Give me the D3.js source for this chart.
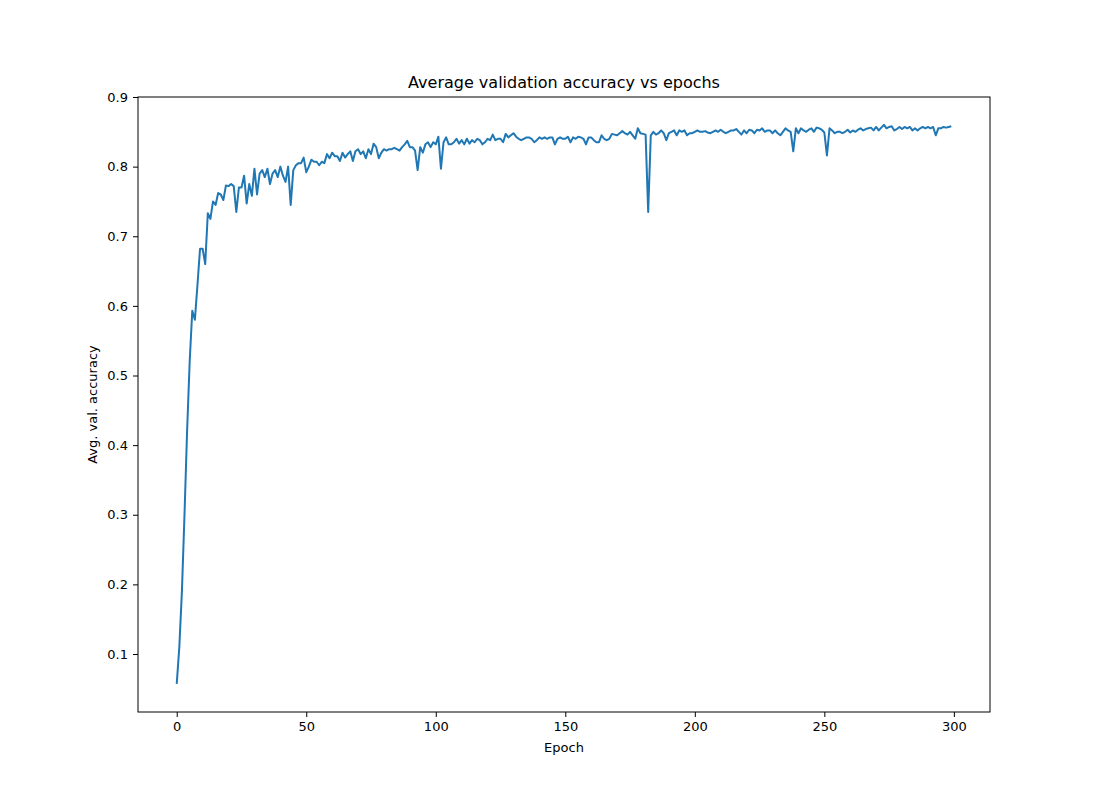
<!DOCTYPE html>
<html>
<head>
<meta charset="utf-8">
<script src="https://cdn.jsdelivr.net/npm/d3@7"></script>
<style>
  body { margin: 0; background: #fff; }
  text { font-family: "DejaVu Sans", sans-serif; }
</style>
</head>
<body>
<svg id="main"></svg>
<script>
const width = 1100;
const height = 800;

const title = "Average validation accuracy vs epochs";
const xLabel = "Epoch";
const yLabel = "Avg. val. accuracy";
const xTicks = [0, 50, 100, 150, 200, 250, 300];
const yTicks = [0.1, 0.2, 0.3, 0.4, 0.5, 0.6, 0.7, 0.8, 0.9];

// avg validation accuracy per epoch
const accuracy = [
  0.057, 0.11, 0.19, 0.30, 0.42, 0.52, 0.593, 0.58, 0.63, 0.682,
  0.682, 0.66, 0.733, 0.725, 0.75, 0.745, 0.762, 0.76, 0.752, 0.773,
  0.772, 0.775, 0.772, 0.735, 0.77, 0.77, 0.787, 0.747, 0.775, 0.758,
  0.797, 0.76, 0.79, 0.795, 0.785, 0.797, 0.775, 0.79, 0.795, 0.785,
  0.80, 0.787, 0.778, 0.80, 0.745, 0.795, 0.802, 0.805, 0.805, 0.813,
  0.792, 0.80, 0.81, 0.807, 0.807, 0.802, 0.807, 0.805, 0.818, 0.812,
  0.82, 0.815, 0.815, 0.808, 0.82, 0.813, 0.818, 0.822, 0.808, 0.822,
  0.825, 0.818, 0.822, 0.812, 0.825, 0.818, 0.833, 0.828, 0.812, 0.82,
  0.825, 0.823, 0.825, 0.825, 0.827, 0.825, 0.823, 0.828, 0.832, 0.837,
  0.828, 0.828, 0.823, 0.795, 0.828, 0.82, 0.832, 0.835, 0.828, 0.835,
  0.832, 0.843, 0.797, 0.835, 0.842, 0.832, 0.832, 0.835, 0.84, 0.833,
  0.838, 0.832, 0.84, 0.833, 0.838, 0.835, 0.84, 0.838, 0.832, 0.835,
  0.84, 0.838, 0.846, 0.838, 0.84, 0.84, 0.835, 0.847, 0.842, 0.845,
  0.848, 0.843, 0.84, 0.838, 0.84, 0.842, 0.842, 0.84, 0.835, 0.838,
  0.842, 0.84, 0.842, 0.84, 0.842, 0.842, 0.832, 0.84, 0.842, 0.84,
  0.84, 0.843, 0.835, 0.842, 0.84, 0.843, 0.842, 0.84, 0.832, 0.842,
  0.842, 0.838, 0.835, 0.835, 0.845, 0.84, 0.838, 0.84, 0.847, 0.846,
  0.845, 0.848, 0.851, 0.848, 0.846, 0.85, 0.845, 0.84, 0.855, 0.848,
  0.847, 0.846, 0.735, 0.845, 0.85, 0.846, 0.848, 0.852, 0.848, 0.838,
  0.848, 0.85, 0.852, 0.845, 0.852, 0.85, 0.852, 0.845, 0.848, 0.848,
  0.85, 0.852, 0.85, 0.85, 0.851, 0.849, 0.848, 0.85, 0.852, 0.85,
  0.853, 0.85, 0.848, 0.85, 0.852, 0.852, 0.854, 0.85, 0.846, 0.852,
  0.848, 0.853, 0.852, 0.848, 0.853, 0.852, 0.855, 0.85, 0.852, 0.852,
  0.848, 0.852, 0.848, 0.845, 0.85, 0.855, 0.852, 0.85, 0.822, 0.855,
  0.848, 0.855, 0.852, 0.85, 0.853, 0.855, 0.85, 0.856, 0.855, 0.853,
  0.849, 0.816, 0.855, 0.852, 0.848, 0.85, 0.85, 0.848, 0.85, 0.853,
  0.849, 0.852, 0.85, 0.853, 0.855, 0.852, 0.854, 0.855, 0.856, 0.852,
  0.857, 0.852, 0.856, 0.86, 0.855, 0.857, 0.858, 0.852, 0.854, 0.857,
  0.854, 0.857, 0.855, 0.857, 0.852, 0.855, 0.852, 0.855, 0.857, 0.855,
  0.857, 0.855, 0.857, 0.845, 0.855, 0.855, 0.857, 0.856, 0.857, 0.858
];

const margin = { top: 97, right: 110, bottom: 88, left: 138 };
const innerW = width - margin.left - margin.right;
const innerH = height - margin.top - margin.bottom;

const svg = d3.select("#main").attr("width", width).attr("height", height);
const g = svg.append("g").attr("transform", `translate(${margin.left},${margin.top})`);

const n = accuracy.length;
const xPad = (n - 1) * 0.05;
const x = d3.scaleLinear().domain([-xPad, n - 1 + xPad]).range([0, innerW]);
const yMin = d3.min(accuracy), yMax = d3.max(accuracy);
const yPad = (0.9 - 0.0167) - (yMax - yMin);
const y = d3.scaleLinear().domain([0.0167, 0.9]).range([innerH, 0]);

g.append("path")
  .datum(accuracy)
  .attr("fill", "none")
  .attr("stroke", "#1f77b4")
  .attr("stroke-width", 2)
  .attr("stroke-linejoin", "round")
  .attr("d", d3.line().x((d, i) => x(i)).y(d => y(d)));

const xAxis = g.append("g")
  .attr("transform", `translate(0,${innerH})`)
  .call(d3.axisBottom(x).tickValues(xTicks).tickSize(5).tickPadding(5).tickFormat(d3.format("d")));
const yAxis = g.append("g")
  .call(d3.axisLeft(y).tickValues(yTicks).tickSize(5).tickPadding(5).tickFormat(d3.format(".1f")));
[xAxis, yAxis].forEach(a => {
  a.select(".domain").remove();
  a.selectAll("text").attr("font-size", 13).attr("fill", "#000").style("font-family", "DejaVu Sans");
  a.selectAll("line").attr("stroke", "#000");
});

g.append("rect")
  .attr("width", innerW).attr("height", innerH)
  .attr("fill", "none").attr("stroke", "#000").attr("stroke-width", 1);

svg.append("text")
  .attr("x", margin.left + innerW / 2).attr("y", 88)
  .attr("text-anchor", "middle").attr("font-size", 16)
  .text(title);

svg.append("text")
  .attr("x", margin.left + innerW / 2).attr("y", 752)
  .attr("text-anchor", "middle").attr("font-size", 13)
  .text(xLabel);

svg.append("text")
  .attr("transform", `translate(97,${margin.top + innerH / 2}) rotate(-90)`)
  .attr("text-anchor", "middle").attr("font-size", 13)
  .text(yLabel);
</script>
</body>
</html>
